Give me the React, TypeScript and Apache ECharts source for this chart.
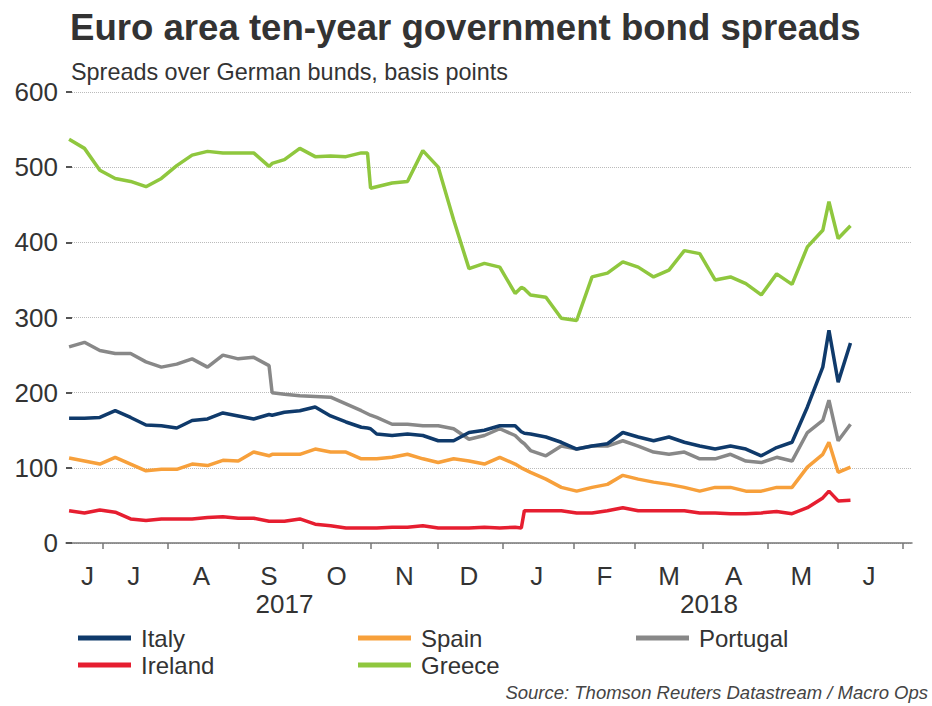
import React, { useEffect, useRef } from "react";
import * as echarts from "echarts";

// Axis range (business days shown on the category axis)
const AXIS_START = "2017-06-15";
const AXIS_END = "2018-07-05";
const MONTH_LETTERS = ["J", "F", "M", "A", "M", "J", "J", "A", "S", "O", "N", "D"];
const YEAR_LABELS = ["2017", "2018"];
const Y_TICKS = [0, 100, 200, 300, 400, 500, 600];

const dates = [
  "2017-06-16", "2017-06-23", "2017-06-30", "2017-07-07", "2017-07-14", "2017-07-21", "2017-07-28",
  "2017-08-04", "2017-08-11", "2017-08-18", "2017-08-25", "2017-09-01", "2017-09-08", "2017-09-15",
  "2017-09-18", "2017-09-22", "2017-09-29", "2017-10-06", "2017-10-13", "2017-10-20", "2017-10-27",
  "2017-10-31", "2017-11-01", "2017-11-03", "2017-11-10", "2017-11-17", "2017-11-24", "2017-12-01",
  "2017-12-08", "2017-12-15", "2017-12-22", "2017-12-29", "2018-01-05", "2018-01-09", "2018-01-10",
  "2018-01-12", "2018-01-19", "2018-01-26", "2018-02-02", "2018-02-09", "2018-02-16", "2018-02-23",
  "2018-03-02", "2018-03-09", "2018-03-16", "2018-03-23", "2018-03-30", "2018-04-06", "2018-04-13",
  "2018-04-20", "2018-04-27", "2018-05-04", "2018-05-11", "2018-05-18", "2018-05-25", "2018-05-29",
  "2018-06-01", "2018-06-07",
];

const greece = [
  537, 525, 496, 485, 481, 474, 485, 502, 516, 521,
  519, 519, 519, 501, 505, 510, 525, 514, 515, 514,
  519, 519, 472, 474, 479, 481, 522, 500, 430, 365,
  372, 367, 332, 340, 338, 330, 327, 299, 296, 354,
  359, 374, 367, 354, 363, 389, 385, 350, 354, 345,
  330, 358, 344, 394, 416, 454, 405, 422,
];
const italy = [
  166, 166, 167, 176, 167, 157, 156, 153, 163, 165,
  173, 169, 165, 171, 170, 174, 176, 181, 169, 161,
  154, 153, 152, 145, 143, 145, 143, 136, 136, 147,
  150, 156, 156, 148, 146, 145, 141, 134, 125, 129,
  132, 147, 141, 136, 141, 134, 129, 125, 129, 125,
  116, 127, 134, 181, 234, 283, 214, 266,
];
const spain = [
  113, 109, 105, 114, 105, 96, 98, 98, 105, 103,
  110, 109, 121, 116, 118, 118, 118, 125, 121, 121,
  112, 112, 112, 112, 114, 118, 112, 107, 112, 109,
  105, 114, 105, 100, 98, 94, 85, 74, 69, 74,
  78, 90, 85, 81, 78, 74, 69, 74, 74, 69,
  69, 74, 74, 101, 118, 134, 94, 101,
];
const portugal = [
  261, 267, 256, 252, 252, 241, 234, 238, 245, 234,
  250, 245, 247, 236, 200, 198, 196, 195, 194, 185,
  176, 172, 170, 167, 158, 158, 156, 156, 152, 138,
  143, 152, 143, 135, 132, 123, 116, 129, 125, 129,
  129, 136, 129, 121, 118, 121, 112, 112, 118, 109,
  107, 114, 109, 147, 163, 190, 136, 158,
];
const ireland = [
  43, 40, 44, 41, 32, 30, 32, 32, 32, 34,
  35, 33, 33, 29, 29, 29, 32, 25, 23, 20,
  20, 20, 20, 20, 21, 21, 23, 20, 20, 20,
  21, 20, 21, 20, 43, 43, 43, 43, 40, 40,
  43, 47, 43, 43, 43, 43, 40, 40, 39, 39,
  40, 42, 39, 47, 60, 69, 56, 57,
];

const COLORS = {
  Italy: "#0f3a6b",
  Spain: "#f7a03b",
  Portugal: "#888888",
  Ireland: "#e61e30",
  Greece: "#8fc73e",
};

const FONT = "'Liberation Sans', Arial, Helvetica, sans-serif";

function businessDays(start: string, end: string): string[] {
  const out: string[] = [];
  const d = new Date(start + "T00:00:00Z");
  const e = new Date(end + "T00:00:00Z");
  while (d.getTime() <= e.getTime()) {
    const wd = d.getUTCDay();
    if (wd !== 0 && wd !== 6) out.push(d.toISOString().slice(0, 10));
    d.setUTCDate(d.getUTCDate() + 1);
  }
  return out;
}

export default function App() {
  const ref = useRef<HTMLDivElement>(null);

  useEffect(() => {
    if (!ref.current) return;
    const chart = echarts.init(ref.current, null, { renderer: "svg" });

    const cats = businessDays(AXIS_START, AXIS_END);
    const monthFirst = new Set<number>();
    const monthMid = new Set<number>();
    const yearMid = new Set<number>();
    const ranges: Record<string, [number, number]> = {};
    const yRanges: Record<string, [number, number]> = {};
    cats.forEach((c, i) => {
      const m = c.slice(0, 7);
      const y = c.slice(0, 4);
      if (!ranges[m]) {
        ranges[m] = [i, i];
        if (i > 0) monthFirst.add(i);
      } else ranges[m][1] = i;
      if (!yRanges[y]) yRanges[y] = [i, i];
      else yRanges[y][1] = i;
    });
    Object.keys(ranges).forEach((m) => {
      const [a, b] = ranges[m];
      if (b - a < 6) return;
      monthMid.add(a === 0 ? a + 7 : Math.round((a + b) / 2));
    });
    Object.keys(yRanges).forEach((y) => {
      if (YEAR_LABELS.indexOf(y) < 0) return;
      const [a, b] = yRanges[y];
      yearMid.add(Math.round((a + b) / 2));
    });

    const mk = (name: string, vals: number[]) => ({
      name,
      type: "line",
      data: dates.map((d, i) => [d, vals[i]]),
      symbol: "none",
      lineStyle: { width: 3.5, color: (COLORS as any)[name] },
      itemStyle: { color: (COLORS as any)[name] },
      smooth: false,
    });

    const legendBase = {
      orient: "vertical",
      top: 626,
      padding: 0,
      itemWidth: 53,
      itemHeight: 5,
      itemGap: 3,
      icon: "rect",
      textStyle: { fontSize: 24, color: "#333", fontFamily: FONT, padding: [0, 0, 0, 5] },
      selectedMode: false,
    };

    chart.setOption({
      animation: false,
      backgroundColor: "#ffffff",
      textStyle: { fontFamily: FONT },
      title: [
        {
          text: "Euro area ten-year government bond spreads",
          left: 70,
          top: 9,
          padding: 0,
          textStyle: { fontSize: 36.6, fontWeight: "bold", color: "#333", fontFamily: FONT },
        },
        {
          text: "Spreads over German bunds, basis points",
          left: 71,
          top: 60,
          padding: 0,
          textStyle: { fontSize: 23.4, fontWeight: "normal", color: "#333", fontFamily: FONT },
        },
        {
          text: "Source: Thomson Reuters Datastream / Macro Ops",
          right: 4,
          top: 683,
          padding: 0,
          textStyle: { fontSize: 18.5, fontStyle: "italic", fontWeight: "normal", color: "#444", fontFamily: FONT },
        },
      ],
      legend: [
        { ...legendBase, left: 78, data: ["Italy", "Ireland"] },
        { ...legendBase, left: 358, data: ["Spain", "Greece"] },
        { ...legendBase, left: 636, data: ["Portugal"] },
      ],
      grid: { left: 66, right: 20, top: 92, bottom: 163, containLabel: false },
      xAxis: [
        {
          type: "category",
          data: cats,
          boundaryGap: false,
          axisLine: { show: true, lineStyle: { color: "#777", width: 1.5 } },
          axisTick: {
            show: true,
            length: 6,
            interval: (i: number) => monthFirst.has(i),
            lineStyle: { color: "#777", width: 1.5 },
          },
          axisLabel: {
            interval: (i: number) => monthMid.has(i),
            formatter: (v: string) => MONTH_LETTERS[parseInt(v.slice(5, 7), 10) - 1],
            fontSize: 26,
            color: "#333",
            margin: 20,
            fontFamily: FONT,
          },
          splitLine: { show: false },
        },
        {
          type: "category",
          data: cats,
          boundaryGap: false,
          position: "bottom",
          offset: 28,
          axisLine: { show: false },
          axisTick: { show: false },
          axisLabel: {
            interval: (i: number) => yearMid.has(i),
            formatter: (v: string) => v.slice(0, 4),
            fontSize: 26,
            color: "#333",
            margin: 20,
            fontFamily: FONT,
          },
          splitLine: { show: false },
        },
      ],
      yAxis: {
        type: "value",
        min: Y_TICKS[0],
        max: Y_TICKS[Y_TICKS.length - 1],
        interval: 100,
        axisLine: { show: false },
        axisTick: { show: true, inside: true, length: 6, lineStyle: { color: "#555", width: 2 } },
        axisLabel: { fontSize: 26, color: "#333", margin: 8, fontFamily: FONT },
        splitLine: { show: true, lineStyle: { color: "#bbb", type: "dotted", width: 1 } },
      },
      series: [
        mk("Greece", greece),
        mk("Ireland", ireland),
        mk("Spain", spain),
        mk("Portugal", portugal),
        mk("Italy", italy),
      ],
    });

    return () => chart.dispose();
  }, []);

  return (
    <div
      ref={ref}
      style={{ position: "absolute", left: 0, top: 0, width: 932, height: 706, background: "#fff" }}
    />
  );
}
